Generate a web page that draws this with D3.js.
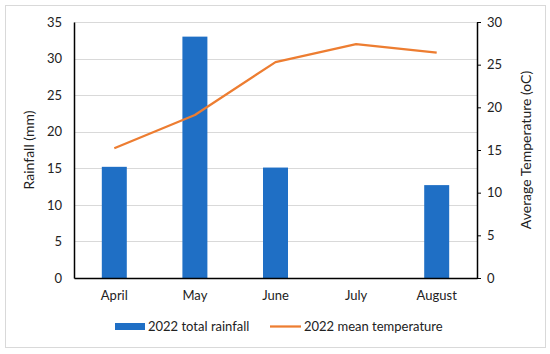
<!DOCTYPE html>
<html><head><meta charset="utf-8">
<script src="https://cdn.jsdelivr.net/npm/d3@7"></script>
<style>body{margin:0;background:#fff}svg{display:block}text{font-family:Lato,"Open Sans",sans-serif;fill:#222}</style>
</head><body><svg id="c" width="550" height="354"></svg>
<script>
const months = ["April","May","June","July","August"];
const rainfall = [15.2, 33.0, 15.1, 0, 12.7];
const temperature = [15.2, 19.1, 25.3, 27.4, 26.4];
const leftTicks = [0,5,10,15,20,25,30,35];
const rightTicks = [0,5,10,15,20,25,30];
const seriesNames = ["2022 total rainfall","2022 mean temperature"];

const svg = d3.select("#c");
const L=74, R=477, T=22, B=278;
svg.append("rect").attr("x",5.5).attr("y",5.5).attr("width",540).attr("height",342)
  .attr("fill","#fff").attr("stroke","#d9d9d9");

const x = d3.scaleBand().domain(months).range([L,R]).paddingInner(0.69).paddingOuter(0.345);
const y = d3.scaleLinear().domain([0,35]).range([B,T]);
const y2 = d3.scaleLinear().domain([0,30]).range([B,T]);

svg.append("g").selectAll("line").data(leftTicks.slice(1)).join("line")
  .attr("x1",L).attr("x2",R).attr("y1",d=>Math.round(y(d))+0.5).attr("y2",d=>Math.round(y(d))+0.5)
  .attr("stroke","#d9d9d9").attr("stroke-width",1);

svg.append("g").selectAll("rect").data(months).join("rect")
  .attr("x",d=>x(d)).attr("width",x.bandwidth())
  .attr("y",(d,i)=>y(rainfall[i])).attr("height",(d,i)=>B-y(rainfall[i]))
  .attr("fill","#1f6fc5");

const line = d3.line().x((d,i)=>x(months[i])+x.bandwidth()/2).y(d=>y2(d));
svg.append("path").datum(temperature).attr("d",line).attr("fill","none")
  .attr("stroke","#ed7d31").attr("stroke-width",2.25).attr("stroke-linejoin","round");

const la = svg.append("g").attr("transform",`translate(${L},0)`)
  .call(d3.axisLeft(y).tickValues(leftTicks).tickSize(0).tickPadding(12));
la.select(".domain").attr("stroke","#000").attr("stroke-width",1.5);
la.selectAll("text").attr("font-size",13).style("font-family","Lato");
const ra = svg.append("g").attr("transform",`translate(${R},0)`)
  .call(d3.axisRight(y2).tickValues(rightTicks).tickSize(4).tickSizeOuter(0).tickPadding(6));
ra.select(".domain").attr("stroke","#000").attr("stroke-width",1.5);
ra.selectAll(".tick line").attr("stroke","#000");
ra.selectAll("text").attr("font-size",13).style("font-family","Lato");
const ba = svg.append("g").attr("transform",`translate(0,${B})`)
  .call(d3.axisBottom(x).tickSize(0).tickSizeOuter(0).tickPadding(13));
ba.select(".domain").attr("stroke","#000").attr("stroke-width",1.5);
ba.selectAll("text").attr("font-size",13).style("font-family","Lato");

svg.append("text").attr("transform","translate(34,150) rotate(-90)").attr("text-anchor","middle")
  .attr("font-size",14).text("Rainfall (mm)");
svg.append("text").attr("transform","translate(531,150) rotate(-90)").attr("text-anchor","middle")
  .attr("font-size",14).text("Average Temperature (oC)");

svg.append("rect").attr("x",115).attr("y",323).attr("width",30).attr("height",7).attr("fill","#1f6fc5");
svg.append("text").attr("x",148).attr("y",331).attr("font-size",13).text(seriesNames[0]);
svg.append("line").attr("x1",270).attr("x2",301).attr("y1",326.5).attr("y2",326.5)
  .attr("stroke","#ed7d31").attr("stroke-width",2.25);
svg.append("text").attr("x",304).attr("y",331).attr("font-size",13).text(seriesNames[1]);
</script></body></html>
